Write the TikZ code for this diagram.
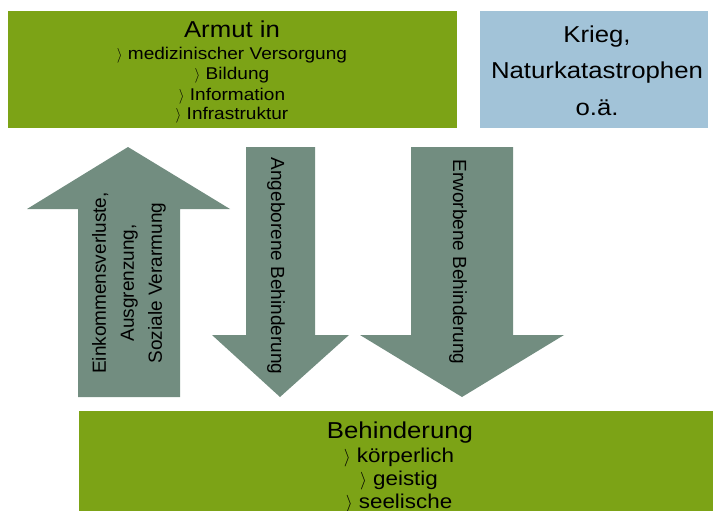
\documentclass[tikz,border=0pt]{standalone}
\usepackage{fontspec}
\setmainfont{Liberation Sans}
\newfontfamily\widesans{Liberation Sans}[FakeStretch=1.12]
\definecolor{armutgreen}{RGB}{124,163,22}
\definecolor{kriegblue}{RGB}{162,195,216}
\definecolor{arrowgrey}{RGB}{114,141,128}
\newcommand{\bul}{\scalebox{0.85}{$\rangle$}}

\begin{document}
\begin{tikzpicture}[x=1pt, y=-1pt,
    headtext/.style={font={\widesans\fontsize{23}{26}\selectfont}, anchor=base, inner sep=0pt},
    toplist/.style={font={\widesans\fontsize{17}{20}\selectfont}, anchor=base, inner sep=0pt},
    botlist/.style={font={\widesans\fontsize{20}{23}\selectfont}, anchor=base, inner sep=0pt},
    arrowtext/.style={font={\fontsize{19}{28}\selectfont}, align=center, inner sep=0pt},
    blockarrow/.style={fill=arrowgrey}]
    \useasboundingbox (0,0) rectangle (713,511);

    % Armut box top left
    \fill[armutgreen] (8,11) rectangle (457,128);
    \node[headtext] (armut) at (232,38) {Armut in};
    \foreach \entry [count=\i] in {medizinischer Versorgung, Bildung, Information, Infrastruktur}
        \node[toplist] (armut\i) at (232,40+20*\i) {\bul\ \entry};

    % Krieg box top right
    \fill[kriegblue] (480,11) rectangle (708,128);
    \foreach \entry [count=\i] in {{Krieg,}, Naturkatastrophen, o.ä.}
        \node[headtext] (krieg\i) at (597,7+36*\i) {\entry};

    % Behinderung box at bottom
    \fill[armutgreen] (79,411) rectangle (713,511);
    \node[headtext] (behinderung) at (400,438) {Behinderung};
    \foreach \entry [count=\i] in {körperlich, geistig, seelische}
        \node[botlist] (behinderung\i) at (399,439+23*\i) {\bul\ \entry};

    % Up arrow: Behinderung leads to Armut
    \fill[blockarrow] (78,397) -- (78,209) -- (27,209) -- (128,147) -- (230,209) -- (180,209) -- (180,397) -- cycle;
    \node[arrowtext, rotate=90] (verluste) at (129,283) {Einkommensverluste,\\Ausgrenzung,\\Soziale Verarmung};

    % Down arrows: Armut resp. Krieg lead to Behinderung
    \fill[blockarrow] (246,147) -- (315,147) -- (315,335) -- (349,335) -- (280,397) -- (212,335) -- (246,335) -- cycle;
    \node[arrowtext, rotate=-90] (angeboren) at (276,266) {Angeborene Behinderung};

    \fill[blockarrow] (411,147) -- (513,147) -- (513,335) -- (564,335) -- (462,397) -- (360,335) -- (411,335) -- cycle;
    \node[arrowtext, rotate=-90] (erworben) at (458,262) {Erworbene Behinderung};
\end{tikzpicture}
\end{document}
